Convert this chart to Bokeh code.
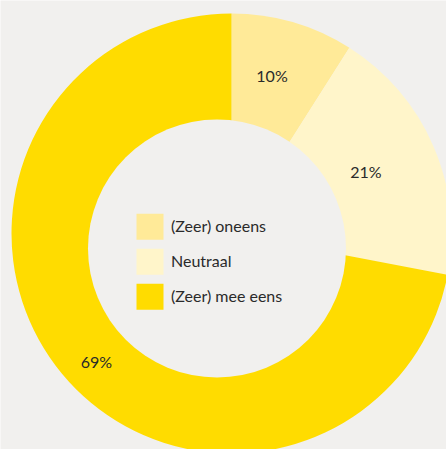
import math
from bokeh.plotting import figure
from bokeh.models import Range1d, ColumnDataSource
from bokeh.core.properties import value
from bokeh.embed import file_html
from bokeh.resources import INLINE

# ---- data ----
categories = ["(Zeer) oneens", "Neutraal", "(Zeer) mee eens"]
shares = [0.09, 0.19, 0.72]          # slice sizes as drawn
labels = ["10%", "21%", "69%"]        # printed labels
colors = ["#FFEA98", "#FFF5CA", "#FFDC00"]

# ---- layout ----
W, H = 446, 449
BG = "#F1F0EE"
cx, cy = 231, H - 233          # outer centre (data coords, y up)
R = 220
hx, hy, hr = 216.5, H - 248, 129   # hole
label_r = [163, 148, 186]
label_shift = [-1.8, -1.4, -3.8]   # degrees, relative to slice midpoint (clockwise +)
FONT = "Lato"

p = figure(width=W, height=H, output_backend="svg", toolbar_location=None,
           x_range=Range1d(0, W), y_range=Range1d(0, H),
           background_fill_color=BG, border_fill_color=BG, min_border=0)
p.axis.visible = False
p.grid.visible = False
p.outline_line_color = None

start = math.pi / 2
starts, ends, mids = [], [], []
a = start
for s in shares:
    b = a - s * 2 * math.pi
    starts.append(b)
    ends.append(a)
    mids.append((a + b) / 2)
    a = b

src = ColumnDataSource(dict(start=starts, end=ends, color=colors))
p.wedge(x=cx, y=cy, radius=R, start_angle="start", end_angle="end",
        fill_color="color", line_color=None, source=src)
p.scatter(x=[hx], y=[hy], size=2 * hr, marker="circle",
          fill_color=BG, line_color=None)

angs = [m - math.radians(d) for m, d in zip(mids, label_shift)]
lx = [cx + r * math.cos(t) for r, t in zip(label_r, angs)]
ly = [cy + r * math.sin(t) for r, t in zip(label_r, angs)]
p.text(x=lx, y=ly, text=labels, text_align="center", text_baseline="middle",
       text_font=value(FONT), text_font_size="16px", text_color="#2A2A2A")

# legend
lg_x, lg_y0, lg_step, sq = 149.5, H - 226.3, 35, 26
ys = [lg_y0 - i * lg_step for i in range(len(categories))]
p.rect(x=[lg_x] * 3, y=ys, width=sq + 1, height=sq, fill_color=colors, line_color=None)
p.text(x=[170.5] * 3, y=[y + 1.5 for y in ys], text=categories, text_align="left",
       text_baseline="middle", text_font=value(FONT), text_font_size="16px",
       text_color="#2A2A2A")

open("out.html", "w").write(file_html(p, INLINE))
